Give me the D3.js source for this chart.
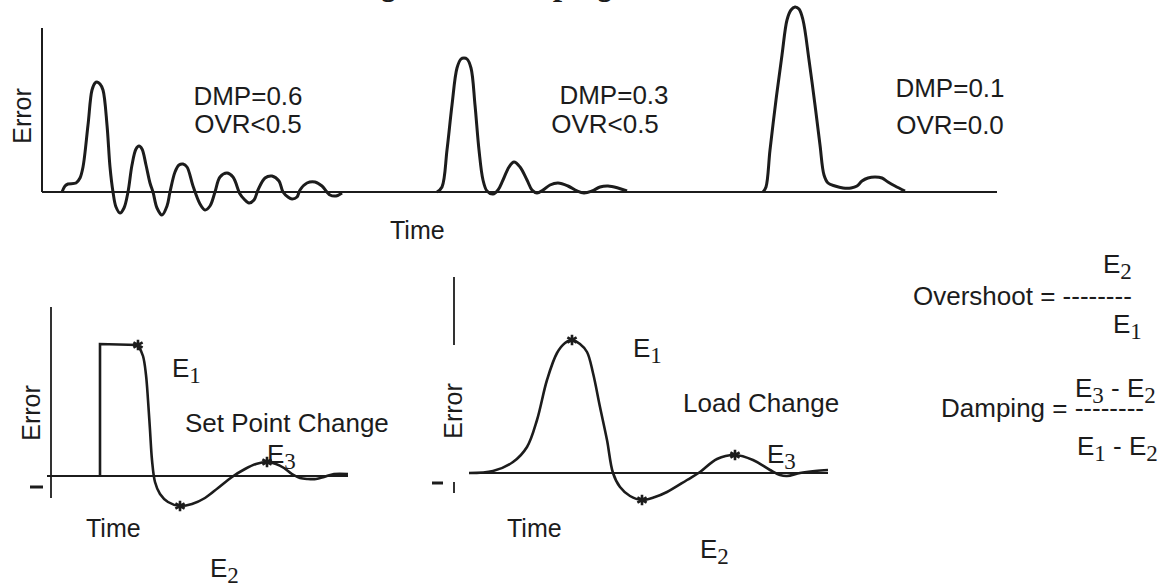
<html>
<head>
    <script src="https://d3js.org/d3.v7.min.js" charset="utf-8"></script>
    <style>
        body { margin: 0; background: #fff; }
    </style>
</head>

<body>
    <script type="text/javascript">
        var width = 1166;
        var height = 583;

        // Top panel: three error responses, [time, error]
        var dmp06 = [
            [2.0, 0], [2.3, 0.6], [2.6, 0.8], [3.4, 0.9], [3.8, 1.4], [4.1, 2.5], [4.6, 6.7], [5.0, 10.2],
            [5.3, 10.9], [5.5, 11.0], [5.8, 10.8], [6.1, 10.2], [6.5, 6.7], [6.8, 2.5], [7.1, 0], [7.4, -1.5],
            [7.8, -2.1], [8.2, -1.6], [8.6, 0], [9.0, 2.7], [9.4, 4.3], [9.7, 4.6], [10.0, 4.3], [10.4, 2.7],
            [10.8, 0.9], [11.1, 0], [11.5, -1.6], [12.0, -2.3], [12.5, -1.4], [12.8, 0], [13.3, 2.0], [13.7, 2.7],
            [14.1, 2.8], [14.5, 2.5], [15.1, 0.6], [15.8, -1.2], [16.3, -1.8], [16.8, -1.4], [17.3, 0], [17.8, 1.5],
            [18.5, 1.9], [19.1, 1.5], [19.8, -0.2], [20.2, -0.7], [20.7, -1.1], [21.2, -0.8], [21.6, 0.2], [22.3, 1.4],
            [23.0, 1.6], [23.7, 1.1], [24.1, 0], [24.6, -0.5], [25.0, -0.7], [25.5, -0.5], [25.8, 0.2], [26.5, 0.9],
            [27.3, 1.0], [28.0, 0.6], [28.8, -0.3], [29.4, -0.4], [30.0, -0.1]
        ];
        var dmp03 = [
            [39.5, 0], [40.0, 0.5], [40.5, 4.2], [41.0, 8.7], [41.5, 12.4], [41.9, 13.3], [42.2, 13.4], [42.5, 13.3],
            [42.9, 12.4], [43.3, 8.7], [43.7, 4.2], [44.1, 1.2], [44.5, 0.1], [45.1, -0.2], [45.6, 0.2], [46.1, 1.2],
            [46.7, 2.5], [47.2, 3.0], [47.8, 2.5], [48.5, 1.2], [49.0, 0.2], [49.5, -0.1], [50.1, 0.2], [50.8, 0.7],
            [51.6, 0.9], [52.6, 0.6], [53.5, 0.1], [54.2, -0.1], [55.0, 0.1], [55.8, 0.5], [56.6, 0.6], [57.6, 0.4],
            [58.5, 0.1]
        ];
        var dmp01 = [
            [72.1, 0], [72.4, 0.5], [72.8, 4.2], [73.4, 9.2], [74.0, 13.7], [74.5, 17.2], [74.9, 18.2], [75.3, 18.5],
            [75.7, 18.3], [76.1, 17.2], [76.7, 13.2], [77.3, 8.7], [77.8, 4.7], [78.2, 1.7], [78.6, 0.9], [79.3, 0.6],
            [80.1, 0.4], [80.9, 0.4], [81.5, 0.6], [82.0, 1.1], [82.6, 1.4], [83.3, 1.5], [84.0, 1.4], [84.6, 1.0],
            [85.3, 0.6], [86.3, 0.1]
        ];
        var dmpLabels = ["DMP=0.6", "DMP=0.3", "DMP=0.1"];
        var ovrLabels = ["OVR<0.5", "OVR<0.5", "OVR=0.0"];

        // Bottom left: set point change
        var setPointStep = [[5.3, 0], [5.3, 13.2], [9.1, 13.1]];
        var setPointCurve = [
            [9.1, 13.1], [9.6, 12.0], [9.9, 10.1], [10.1, 7.6], [10.3, 4.6], [10.5, 1.6], [10.8, -0.6], [11.3, -1.8],
            [12.1, -2.6], [13.3, -3.0], [14.5, -2.8], [15.8, -2.2], [17.1, -1.2], [18.5, -0.1], [19.8, 0.7], [20.9, 1.2],
            [22.0, 1.4], [22.9, 1.2], [23.7, 0.8], [24.5, 0.2], [25.3, -0.2], [26.1, -0.3], [26.9, -0.3], [27.7, -0.1],
            [28.7, 0.2], [30.1, 0.2]
        ];
        var setPointStars = [[9.1, 13.1], [13.3, -3.0], [22.0, 1.4]];

        // Bottom middle: load change
        var loadCurve = [
            [0, 0], [2.4, 0.2], [4.4, 1.1], [5.8, 2.6], [6.8, 5.3], [7.8, 9.3], [8.8, 12.0], [9.6, 13.0],
            [10.3, 13.3], [11.1, 12.9], [11.8, 12.1], [12.4, 10.0], [13.1, 6.6], [13.8, 3.3], [14.4, 0], [15.1, -1.4],
            [16.1, -2.3], [17.3, -2.7], [18.6, -2.4], [19.8, -1.9], [21.8, -0.7], [23.1, 0.1], [24.8, 1.4], [26.6, 1.8],
            [28.4, 1.3], [30.1, 0.3], [31.1, -0.2], [31.8, -0.3], [33.1, 0], [34.6, 0.2], [35.9, 0.3]
        ];
        var loadStars = [[10.3, 13.3], [17.3, -2.7], [26.6, 1.8]];

        var ink = "#1c1c1c";
        var sans = "'Liberation Sans', Arial, Helvetica, sans-serif";
        var serif = "'Liberation Serif', 'Times New Roman', serif";

        const svg = d3.select("body").append("svg")
            .attr("width", width)
            .attr("height", height)
            .style("display", "block");

        // Title, mostly cut off by the top edge
        svg.append("text")
            .attr("x", 352)
            .attr("y", -5)
            .style("font-family", serif)
            .style("font-style", "italic")
            .style("font-weight", "bold")
            .style("font-size", "33px")
            .attr("fill", ink)
            .text("Figure 3: Damping");

        // Writes text made of parts, some of them serif subscripts
        function richText(x, y, parts, size) {
            var t = svg.append("text")
                .attr("x", x)
                .attr("y", y)
                .attr("fill", ink)
                .style("font-family", sans)
                .style("font-size", (size || 26) + "px");
            var shift = 0;
            parts.forEach(p => {
                if (typeof p === "string") {
                    t.append("tspan").attr("dy", -shift).text(p);
                    shift = 0;
                } else {
                    t.append("tspan")
                        .attr("dy", 6 - shift)
                        .style("font-family", serif)
                        .style("font-size", "23px")
                        .text(p.sub);
                    shift = 6;
                }
            });
            return t;
        }

        function rotatedLabel(x, y, txt) {
            svg.append("text")
                .attr("transform", "translate(" + x + "," + y + ") rotate(-90)")
                .attr("text-anchor", "middle")
                .attr("fill", ink)
                .style("font-family", sans)
                .style("font-size", "25px")
                .text(txt);
        }

        function hLine(x1, x2, y, w) {
            svg.append("line")
                .attr("x1", x1).attr("x2", x2).attr("y1", y).attr("y2", y)
                .attr("stroke", ink).attr("stroke-width", w);
        }
        function vLine(x, y1, y2, w) {
            svg.append("line")
                .attr("x1", x).attr("x2", x).attr("y1", y1).attr("y2", y2)
                .attr("stroke", ink).attr("stroke-width", w);
        }

        // ---------- top panel ----------
        var topX = d3.scaleLinear().domain([0, 95.5]).range([42, 997]);
        var topY = d3.scaleLinear().domain([0, 18.5]).range([192, 7]);

        var topLine = d3.line()
            .x(d => topX(d[0]))
            .y(d => topY(d[1]))
            .curve(d3.curveCatmullRom.alpha(0.5));

        vLine(topX(0), topY(16.4), topY(0), 2);
        hLine(topX(0), topX(95.5), topY(0), 2.2);

        svg.selectAll("path.top")
            .data([dmp06, dmp03, dmp01])
            .join("path")
                .attr("class", "top")
                .attr("d", topLine)
                .attr("fill", "none")
                .attr("stroke", ink)
                .attr("stroke-width", 3)
                .attr("stroke-linejoin", "round");

        rotatedLabel(31, 116, "Error");
        svg.append("text").attr("x", 390).attr("y", 239)
            .attr("fill", ink).style("font-family", sans).style("font-size", "25px").text("Time");

        var labelPos = [[248, 105, 133], [614, 104, 133], [950, 97, 134]];
        labelPos.forEach((p, i) => {
            svg.append("text").attr("x", p[0]).attr("y", p[1])
                .attr("text-anchor", "middle").attr("fill", ink)
                .style("font-family", sans).style("font-size", "26px").text(dmpLabels[i]);
            svg.append("text").attr("x", p[0] + (i === 1 ? -9 : 0)).attr("y", p[2])
                .attr("text-anchor", "middle").attr("fill", ink)
                .style("font-family", sans).style("font-size", "26px").text(ovrLabels[i]);
        });

        // ---------- bottom panels ----------
        var star = d3.symbol().type(d3.symbolAsterisk).size(80);

        function drawPanel(xs, ys, curve, step, stars) {
            var line = d3.line()
                .x(d => xs(d[0]))
                .y(d => ys(d[1]))
                .curve(d3.curveCatmullRom.alpha(0.5));
            if (step) {
                svg.append("path")
                    .attr("d", d3.line().x(d => xs(d[0])).y(d => ys(d[1]))(step))
                    .attr("fill", "none").attr("stroke", ink).attr("stroke-width", 2.6);
            }
            svg.append("path")
                .attr("d", line(curve))
                .attr("fill", "none")
                .attr("stroke", ink)
                .attr("stroke-width", 2.6);
            svg.selectAll(null)
                .data(stars)
                .join("path")
                    .attr("transform", d => "translate(" + xs(d[0]) + "," + ys(d[1]) + ")")
                    .attr("d", star)
                    .attr("fill", "none")
                    .attr("stroke", ink)
                    .attr("stroke-width", 2.6);
        }

        // set point change
        var lx = d3.scaleLinear().domain([0, 30.1]).range([47, 348]);
        var ly = d3.scaleLinear().domain([-2.2, 16.9]).range([498, 307]);
        vLine(lx(0.4), ly(16.9), ly(-2.2), 1.8);
        hLine(lx(0), lx(30.1), ly(0), 1.8);
        hLine(lx(-1.7), lx(-0.4), ly(-1.1), 3);
        drawPanel(lx, ly, setPointCurve, setPointStep, setPointStars);

        rotatedLabel(40, 413, "Error");
        svg.append("text").attr("x", 86).attr("y", 537)
            .attr("fill", ink).style("font-family", sans).style("font-size", "25px").text("Time");
        richText(172, 377, ["E", {sub: "1"}]);
        richText(185, 432, ["Set Point Change"]);
        richText(267, 463, ["E", {sub: "3"}]);
        richText(210, 577, ["E", {sub: "2"}]);

        // load change
        var mx = d3.scaleLinear().domain([0, 35.9]).range([469, 828]);
        var my = d3.scaleLinear().domain([-2.0, 19.6]).range([493, 277]);
        vLine(mx(-1.5), my(19.6), my(12.8), 1.8);
        vLine(mx(-1.5), my(-0.9), my(-2.0), 1.8);
        hLine(mx(0), mx(35.9), my(0), 1.8);
        hLine(mx(-3.7), mx(-2.6), my(-1.0), 3);
        drawPanel(mx, my, loadCurve, null, loadStars);

        rotatedLabel(462, 411, "Error");
        svg.append("text").attr("x", 507).attr("y", 537)
            .attr("fill", ink).style("font-family", sans).style("font-size", "25px").text("Time");
        richText(633, 357, ["E", {sub: "1"}]);
        richText(683, 412, ["Load Change"]);
        richText(767, 463, ["E", {sub: "3"}]);
        richText(700, 558, ["E", {sub: "2"}]);

        // ---------- formulas ----------
        richText(1103, 273, ["E", {sub: "2"}]);
        richText(913, 305, ["Overshoot = --------"]);
        richText(1113, 333, ["E", {sub: "1"}]);

        richText(1075, 397, ["E", {sub: "3"}, " - E", {sub: "2"}]);
        richText(941, 417, ["Damping = --------"]);
        richText(1077, 455, ["E", {sub: "1"}, " - E", {sub: "2"}]);
    </script>
</body>
</html>
